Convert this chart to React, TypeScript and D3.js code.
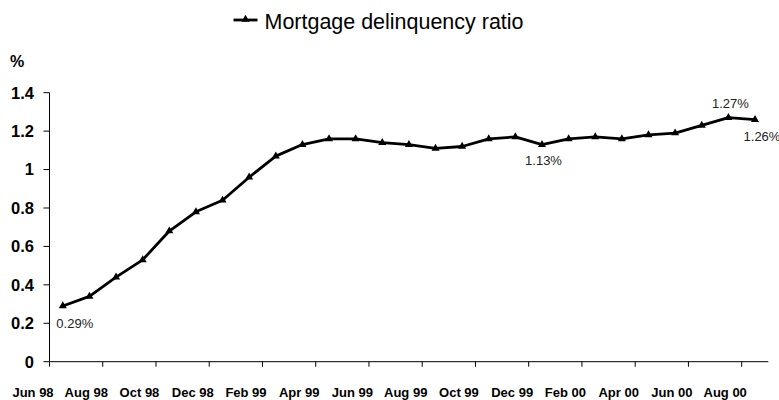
import React from "react";
import * as d3 from "d3";

const months: string[] = [
  "Jun 98", "Jul 98", "Aug 98", "Sep 98", "Oct 98", "Nov 98", "Dec 98", "Jan 99", "Feb 99",
  "Mar 99", "Apr 99", "May 99", "Jun 99", "Jul 99", "Aug 99", "Sep 99", "Oct 99", "Nov 99",
  "Dec 99", "Jan 00", "Feb 00", "Mar 00", "Apr 00", "May 00", "Jun 00", "Jul 00", "Aug 00",
];

const delinquency: number[] = [
  0.29, 0.34, 0.44, 0.53, 0.68, 0.78, 0.84, 0.96, 1.07, 1.13, 1.16, 1.16, 1.14, 1.13,
  1.11, 1.12, 1.16, 1.17, 1.13, 1.16, 1.17, 1.16, 1.18, 1.19, 1.23, 1.27, 1.26,
];

const yTicks: number[] = [0, 0.2, 0.4, 0.6, 0.8, 1, 1.2, 1.4];
const tickLabelMonths: string[] = [
  "Jun 98", "Aug 98", "Oct 98", "Dec 98", "Feb 99", "Apr 99", "Jun 99", "Aug 99",
  "Oct 99", "Dec 99", "Feb 00", "Apr 00", "Jun 00", "Aug 00",
];

const annotatedMonths: string[] = ["Jun 98", "Dec 99", "Jul 00", "Aug 00"];
const annotationTexts: string[] = ["0.29%", "1.13%", "1.27%", "1.26%"];

const seriesName = "Mortgage delinquency ratio";

const FONT = "'Liberation Sans', Arial, Helvetica, sans-serif";

export default function App() {
  const W = 779;
  const H = 400;
  const left = 49.5;
  const right = 768.3;
  const top = 92.7;
  const bottom = 361.7;

  const x = d3.scaleBand<string>().domain(months).range([left, right]).padding(0);
  const y = d3.scaleLinear().domain([0, 1.4]).range([bottom, top]);
  const cx = (m: string) => (x(m) as number) + x.bandwidth() / 2;

  const line = d3
    .line<number>()
    .x((_, i) => cx(months[i]))
    .y((d) => y(d));

  const tri = d3.symbol().type(d3.symbolTriangle).size(28)() as string;
  const offsets: [number, number, string][] = [
    [12, 22, "middle"],
    [1.5, 20, "middle"],
    [2, -10, "middle"],
    [7, 21, "middle"],
  ];

  return (
    <svg
      width={W}
      height={H}
      style={{ position: "absolute", left: 0, top: 0, background: "#fff" }}
      fontFamily={FONT}
    >
      {/* legend */}
      <g>
        <line x1={233.5} x2={257.5} y1={20} y2={20} stroke="#000" strokeWidth={2.8} />
        <path d={tri} transform="translate(245.5,19.5)" fill="#000" />
        <text x={264.5} y={28.5} fontSize={22} textLength={259} lengthAdjust="spacingAndGlyphs" fill="#000">
          {seriesName}
        </text>
      </g>

      {/* y axis */}
      <text x={10} y={66.5} fontSize={16} fontWeight="bold" fill="#000">%</text>
      <line x1={left} x2={left} y1={top} y2={bottom} stroke="#000" strokeWidth={1} />
      {yTicks.map((t) => (
        <g key={t}>
          <line x1={left - 6} x2={left} y1={y(t)} y2={y(t)} stroke="#000" strokeWidth={1} />
          <text
            x={34}
            y={y(t)}
            dy="0.36em"
            textAnchor="end"
            fontSize={16.5}
            fontWeight="bold"
            fill="#000"
          >
            {d3.format("~g")(t)}
          </text>
        </g>
      ))}

      {/* x axis */}
      <line x1={left} x2={right} y1={bottom} y2={bottom} stroke="#000" strokeWidth={1} />
      {tickLabelMonths.map((m) => {
        const tx = x(m) as number;
        return (
          <g key={m}>
            <line x1={tx} x2={tx} y1={bottom} y2={bottom + 5} stroke="#000" strokeWidth={1} />
            <text x={tx - 16.5} y={396.5} textAnchor="middle" fontSize={13} fontWeight="bold" fill="#000">
              {m}
            </text>
          </g>
        );
      })}

      {/* series */}
      <path d={line(delinquency) as string} fill="none" stroke="#000" strokeWidth={2.8} strokeLinejoin="round" />
      {delinquency.map((v, i) => (
        <path key={i} d={tri} transform={`translate(${cx(months[i])},${y(v)})`} fill="#000" />
      ))}

      {/* data labels */}
      {annotatedMonths.map((m, k) => {
        const i = months.indexOf(m);
        const [dx, dy, anchor] = offsets[k];
        return (
          <text
            key={m}
            x={cx(m) + dx}
            y={y(delinquency[i]) + dy}
            textAnchor={anchor as any}
            fontSize={13}
            fill="#222"
          >
            {annotationTexts[k]}
          </text>
        );
      })}
    </svg>
  );
}
